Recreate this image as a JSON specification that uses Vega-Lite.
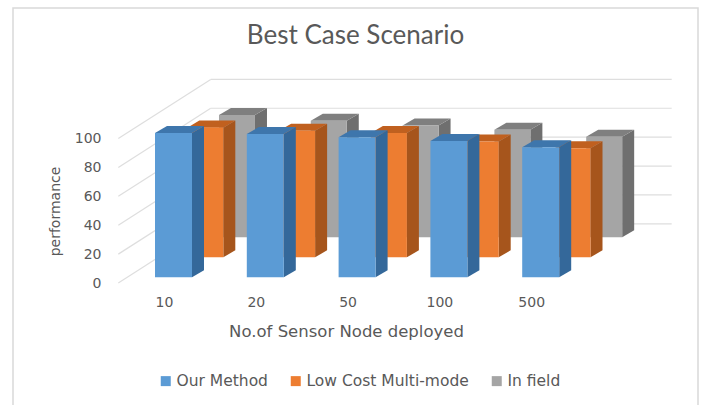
{
"$schema":"https://vega.github.io/schema/vega-lite/v6.json",
"width":685,"height":400,
"autosize":"none",
"padding":{"left":13,"top":8,"right":4,"bottom":0},
"background":"white",
"config":{"view":{"stroke":"#d9d9d9","strokeWidth":1.5},"font":"DejaVu Sans"},
"title":{"text":"Best Case Scenario","font":"Lato","fontSize":26,"fontWeight":"normal","color":"#595959","offset":-41,"anchor":"middle"},
"data":{"values":[
{"category":"10","series":"Our Method","value":100},
{"category":"20","series":"Our Method","value":99.2},
{"category":"50","series":"Our Method","value":96.9},
{"category":"100","series":"Our Method","value":94.4},
{"category":"500","series":"Our Method","value":90},
{"category":"10","series":"Low Cost Multi-mode","value":89.8},
{"category":"20","series":"Low Cost Multi-mode","value":87.7},
{"category":"50","series":"Low Cost Multi-mode","value":86},
{"category":"100","series":"Low Cost Multi-mode","value":80.2},
{"category":"500","series":"Low Cost Multi-mode","value":75.5},
{"category":"10","series":"In field","value":84.7},
{"category":"20","series":"In field","value":80.7},
{"category":"50","series":"In field","value":77.4},
{"category":"100","series":"In field","value":74.4},
{"category":"500","series":"In field","value":69.7}
]},
"transform":[
{"calculate":"indexof(['10','20','50','100','500'],datum.category)","as":"idx"},
{"calculate":"indexof(['Our Method','Low Cost Multi-mode','In field'],datum.series)","as":"s"},
{"calculate":"[3.95,17.8,31.65][datum.s]","as":"base"},
{"calculate":"datum.idx+[-0.098,0.2538,0.599][datum.s]","as":"l"},
{"calculate":"datum.idx+[0.305,0.646,0.991][datum.s]","as":"r"},
{"calculate":"datum.base+datum.value","as":"t"},
{"calculate":"[datum.r,datum.r+0.1307]","as":"sx"},
{"calculate":"[datum.t,datum.t+4.85]","as":"sy"},
{"calculate":"[datum.base,datum.base+4.85]","as":"sy2"},
{"calculate":"[datum.l,datum.l+0.1307,datum.r,datum.r+0.1307]","as":"tx"},
{"calculate":"[datum.t,datum.t+4.85,datum.t+4.85,datum.t+4.85]","as":"ty"},
{"calculate":"[datum.t,datum.t,datum.t,datum.t+4.85]","as":"ty2"}
],
"layer":[
{"data":{"values":[{"level":0},{"level":20},{"level":40},{"level":60},{"level":80},{"level":100}]},
 "transform":[{"calculate":"datum.level+41","as":"back"}],
 "mark":{"type":"rule","color":"#dedede","strokeWidth":1.2},
 "encoding":{
  "x":{"datum":-0.4978,"type":"quantitative","scale":{"domain":[-1.6449,5.817],"nice":false,"zero":false},
   "axis":{"values":[0,1,2,3,4],"labelExpr":"['10','20','50','100','500'][datum.value]","grid":false,"domain":false,"ticks":false,"offset":-125,"labelPadding":12,"labelFontSize":14,"labelColor":"#595959","title":"No.of Sensor Node deployed","titleFontSize":16.5,"titleFontWeight":"normal","titleColor":"#595959","titleX":333,"titleY":40,"labelFlush":false}},
  "x2":{"datum":0.5087},
  "y":{"field":"level","type":"quantitative","scale":{"domain":[-86.56,190.44],"nice":false,"zero":false},
   "axis":{"values":[0,20,40,60,80,100],"grid":false,"domain":false,"ticks":false,"offset":-105,"labelPadding":17,"labelFontSize":14,"labelColor":"#595959","title":"performance","titleFontSize":14,"titleFontWeight":"normal","titleColor":"#595959","titleY":203,"titlePadding":12}},
  "y2":{"field":"back"}
 }},
{"data":{"values":[{"level":0},{"level":20},{"level":40},{"level":60},{"level":80},{"level":100}]},
 "transform":[{"calculate":"datum.level+41","as":"back"}],
 "mark":{"type":"rule","color":"#dedede","strokeWidth":1.2},
 "encoding":{
  "x":{"datum":0.5087,"type":"quantitative"},
  "x2":{"datum":5.5305},
  "y":{"field":"back","type":"quantitative"}
 }},
{"transform":[{"filter":"datum.s==2"},{"flatten":["sx","sy","sy2"]}],"mark":{"type":"area","color":"#6f6f6f"},
 "encoding":{"x":{"field":"sx","type":"quantitative"},"y":{"field":"sy","type":"quantitative"},"y2":{"field":"sy2"},"detail":{"field":"idx"}}},
{"transform":[{"filter":"datum.s==2"},{"flatten":["tx","ty","ty2"]}],"mark":{"type":"area","color":"#7f7f7f"},
 "encoding":{"x":{"field":"tx","type":"quantitative"},"y":{"field":"ty","type":"quantitative"},"y2":{"field":"ty2"},"detail":{"field":"idx"}}},
{"transform":[{"filter":"datum.s==2"}],"mark":{"type":"rect"},
 "encoding":{"x":{"field":"l","type":"quantitative"},"x2":{"field":"r"},"y":{"field":"t","type":"quantitative"},"y2":{"field":"base"},
 "color":{"field":"series","type":"nominal","scale":{"domain":["Our Method","Low Cost Multi-mode","In field"],"range":["#5b9bd5","#ed7d31","#a5a5a5"]},"sort":null,
  "legend":{"orient":"none","direction":"horizontal","legendX":145,"legendY":365,"title":null,"symbolType":"square","symbolSize":100,"labelFontSize":15.5,"labelLimit":300,"labelColor":"#595959","columnPadding":20,"labelOffset":3}}}},
{"transform":[{"filter":"datum.s==1"},{"flatten":["sx","sy","sy2"]}],"mark":{"type":"area","color":"#a6551c"},
 "encoding":{"x":{"field":"sx","type":"quantitative"},"y":{"field":"sy","type":"quantitative"},"y2":{"field":"sy2"},"detail":{"field":"idx"}}},
{"transform":[{"filter":"datum.s==1"},{"flatten":["tx","ty","ty2"]}],"mark":{"type":"area","color":"#c0601f"},
 "encoding":{"x":{"field":"tx","type":"quantitative"},"y":{"field":"ty","type":"quantitative"},"y2":{"field":"ty2"},"detail":{"field":"idx"}}},
{"transform":[{"filter":"datum.s==1"}],"mark":{"type":"rect"},
 "encoding":{"x":{"field":"l","type":"quantitative"},"x2":{"field":"r"},"y":{"field":"t","type":"quantitative"},"y2":{"field":"base"},"color":{"field":"series","type":"nominal","sort":null}}},
{"transform":[{"filter":"datum.s==0"},{"flatten":["sx","sy","sy2"]}],"mark":{"type":"area","color":"#34689a"},
 "encoding":{"x":{"field":"sx","type":"quantitative"},"y":{"field":"sy","type":"quantitative"},"y2":{"field":"sy2"},"detail":{"field":"idx"}}},
{"transform":[{"filter":"datum.s==0"},{"flatten":["tx","ty","ty2"]}],"mark":{"type":"area","color":"#3e76ac"},
 "encoding":{"x":{"field":"tx","type":"quantitative"},"y":{"field":"ty","type":"quantitative"},"y2":{"field":"ty2"},"detail":{"field":"idx"}}},
{"transform":[{"filter":"datum.s==0"}],"mark":{"type":"rect"},
 "encoding":{"x":{"field":"l","type":"quantitative"},"x2":{"field":"r"},"y":{"field":"t","type":"quantitative"},"y2":{"field":"base"},"color":{"field":"series","type":"nominal","sort":null}}}
]
}
